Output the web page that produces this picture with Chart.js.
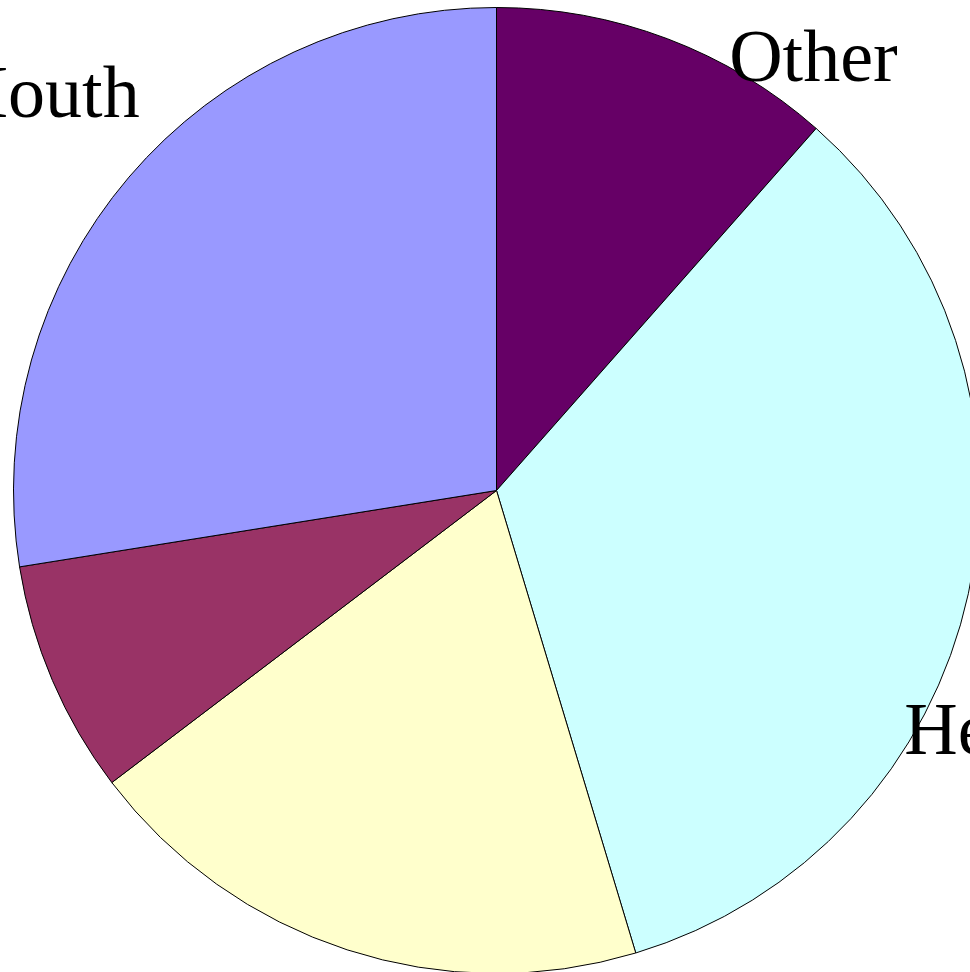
<!DOCTYPE html>
<html>
<head>
<meta charset="utf-8">
<script src="https://cdn.jsdelivr.net/npm/chart.js@4/dist/chart.umd.min.js"></script>
<style>
  html, body { margin: 0; padding: 0; background: #fff; overflow: hidden; }
  .wrap { position: absolute; left: 0; top: 0; width: 992px; height: 981px; }
</style>
</head>
<body>
<div class="wrap"><canvas id="pieCanvas"></canvas></div>
<script>
// slices clockwise from 12 o'clock
var sliceLabels = ['Other', 'Head', '', '', 'Mouth'];
var sliceValues = [11.5, 33.8, 19.3, 7.8, 27.5];
var sliceColors = ['#660066', '#CCFFFF', '#FFFFCC', '#993366', '#9999FF'];

// label nudges from the outer middle of each slice
var labelShift = [[146, 42], [14, 160], [0, 0], [0, 0], [-88, -60]];

var sliceLabelPlugin = {
    id: 'sliceLabels',
    afterDatasetsDraw: function (chart) {
        var ctx = chart.ctx;
        var arcs = chart.getDatasetMeta(0).data;
        ctx.save();
        ctx.font = '74px "Liberation Serif", "Times New Roman", serif';
        ctx.fillStyle = '#000';
        ctx.textAlign = 'center';
        ctx.textBaseline = 'alphabetic';
        arcs.forEach(function (arc, i) {
            var text = chart.data.labels[i];
            if (!text) return;
            var p = arc.getProps(['x', 'y', 'startAngle', 'endAngle', 'outerRadius'], true);
            var mid = (p.startAngle + p.endAngle) / 2;
            var x = p.x + Math.cos(mid) * p.outerRadius + labelShift[i][0];
            var y = p.y + Math.sin(mid) * p.outerRadius + labelShift[i][1];
            ctx.fillText(text, x, y);
        });
        ctx.restore();
    }
};

var ctx = document.getElementById('pieCanvas').getContext('2d');
var myChart = new Chart(ctx, {
    type: 'pie',
    data: {
        labels: sliceLabels,
        datasets: [{
            data: sliceValues,
            backgroundColor: sliceColors,
            borderColor: '#000',
            borderWidth: 1
        }]
    },
    options: {
        responsive: true,
        maintainAspectRatio: false,
        animation: false,
        layout: {
            padding: { left: 13, right: 12, top: 7, bottom: 7 }
        },
        plugins: {
            legend: { display: false },
            tooltip: { enabled: false }
        }
    },
    plugins: [sliceLabelPlugin]
});
</script>
</body>
</html>
